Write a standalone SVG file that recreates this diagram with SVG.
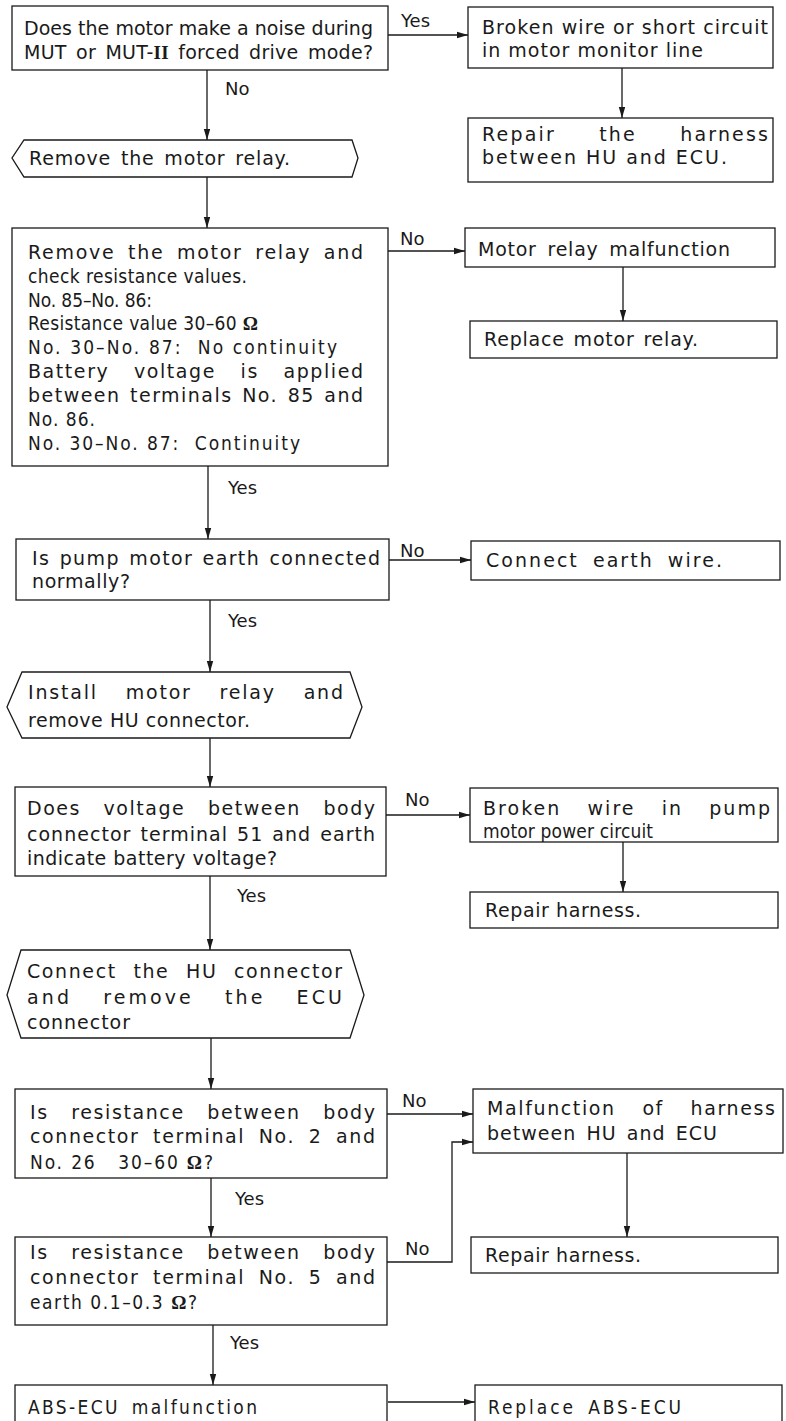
<svg xmlns="http://www.w3.org/2000/svg" width="786" height="1421" viewBox="0 0 786 1421">
  <style>
    .box { fill: #fff; stroke: #1a1a1a; stroke-width: 1.3; }
    .t { font-family: "DejaVu Sans", Verdana, sans-serif; font-size: 19px; fill: #1a1a1a; }
    .n { font-family: "DejaVu Sans Condensed", "DejaVu Sans", sans-serif; font-stretch: condensed; font-size: 19px; fill: #1a1a1a; }
    .lbl { font-family: "DejaVu Sans", Verdana, sans-serif; font-size: 18px; fill: #1a1a1a; }
    .rn { font-family: "Liberation Serif", serif; font-weight: bold; font-stretch: normal; }
    .c { fill: none; stroke: #1a1a1a; stroke-width: 1.3; }
  </style>
  <defs>
    <marker id="arrow" markerUnits="userSpaceOnUse" markerWidth="12" markerHeight="8" refX="11" refY="4" orient="auto">
      <path d="M0,0.8 L11,4 L0,7.2 Z" fill="#1a1a1a"/>
    </marker>
  </defs>
  <rect width="786" height="1421" fill="#fff"/>

  <!-- connectors with their Yes / No labels -->
  <g id="connectors">
    <path class="c" d="M388,35 H468" marker-end="url(#arrow)"/>
    <path class="c" d="M622,68 V118" marker-end="url(#arrow)"/>
    <path class="c" d="M207,70 V140" marker-end="url(#arrow)"/>
    <path class="c" d="M207,177 V228" marker-end="url(#arrow)"/>
    <path class="c" d="M388,251 H465" marker-end="url(#arrow)"/>
    <path class="c" d="M623,267 V321" marker-end="url(#arrow)"/>
    <path class="c" d="M208,466 V539" marker-end="url(#arrow)"/>
    <path class="c" d="M389,560 H471" marker-end="url(#arrow)"/>
    <path class="c" d="M210,600 V672" marker-end="url(#arrow)"/>
    <path class="c" d="M210,738 V787" marker-end="url(#arrow)"/>
    <path class="c" d="M386,815 H470" marker-end="url(#arrow)"/>
    <path class="c" d="M623,842 V892" marker-end="url(#arrow)"/>
    <path class="c" d="M210,876 V950" marker-end="url(#arrow)"/>
    <path class="c" d="M211,1038 V1089" marker-end="url(#arrow)"/>
    <path class="c" d="M387,1114 H473" marker-end="url(#arrow)"/>
    <path class="c" d="M627,1153 V1237" marker-end="url(#arrow)"/>
    <path class="c" d="M211,1178 V1237" marker-end="url(#arrow)"/>
    <path class="c" d="M387,1262 H452 V1142 H473" marker-end="url(#arrow)"/>
    <path class="c" d="M213,1325 V1385" marker-end="url(#arrow)"/>
    <path class="c" d="M388,1402 H475" marker-end="url(#arrow)"/>

    <text class="lbl" x="401" y="27">Yes</text>
    <text class="lbl" x="225" y="95">No</text>
    <text class="lbl" x="400" y="245">No</text>
    <text class="lbl" x="228" y="494">Yes</text>
    <text class="lbl" x="400" y="557">No</text>
    <text class="lbl" x="228" y="627">Yes</text>
    <text class="lbl" x="405" y="806">No</text>
    <text class="lbl" x="237" y="902">Yes</text>
    <text class="lbl" x="402" y="1107">No</text>
    <text class="lbl" x="235" y="1205">Yes</text>
    <text class="lbl" x="405" y="1255">No</text>
    <text class="lbl" x="230" y="1349">Yes</text>
  </g>

  <g id="q-motor-noise">
    <rect class="box" x="12" y="6" width="376" height="64"/>
    <text class="t" x="24" y="35" textLength="349" lengthAdjust="spacing">Does the motor make a noise during</text>
    <text class="t" x="24" y="59" word-spacing="3" textLength="349" lengthAdjust="spacing">MUT or MUT-<tspan class="rn">II</tspan> forced drive mode?</text>
  </g>

  <g id="monitor-line-fault">
    <rect class="box" x="468" y="7" width="305" height="61"/>
    <text class="t" x="482" y="34" textLength="286" lengthAdjust="spacing">Broken wire or short circuit</text>
    <text class="t" x="482" y="57" textLength="221" lengthAdjust="spacing">in motor monitor line</text>
  </g>

  <g id="repair-hu-ecu">
    <rect class="box" x="468" y="118" width="305" height="64"/>
    <text class="t" x="482" y="141" word-spacing="35" textLength="286" lengthAdjust="spacing">Repair the harness</text>
    <text class="t" x="482" y="164" textLength="245" lengthAdjust="spacing">between HU and ECU.</text>
  </g>

  <g id="step-remove-relay">
    <polygon class="box" points="24,140 352,140 358,158 352,177 24,177 12,158"/>
    <text class="t" x="29" y="165" word-spacing="3" textLength="261" lengthAdjust="spacing">Remove the motor relay.</text>
  </g>

  <g id="q-relay-resistance">
    <rect class="box" x="12" y="228" width="376" height="238"/>
    <text class="t" x="28" y="259" word-spacing="5" textLength="335" lengthAdjust="spacing">Remove the motor relay and</text>
    <text class="n" x="28" y="283" textLength="219" lengthAdjust="spacing">check resistance values.</text>
    <text class="n" x="28" y="307" textLength="124" lengthAdjust="spacing">No. 85–No. 86:</text>
    <text class="n" x="28" y="330" textLength="230" lengthAdjust="spacing">Resistance value 30–60 <tspan class="rn">Ω</tspan></text>
    <text class="n" x="28" y="354" textLength="309" lengthAdjust="spacing">No. 30–No. 87:&#160; No continuity</text>
    <text class="t" x="28" y="378" word-spacing="17" textLength="335" lengthAdjust="spacing">Battery voltage is applied</text>
    <text class="t" x="28" y="402" word-spacing="2" textLength="335" lengthAdjust="spacing">between terminals No. 85 and</text>
    <text class="n" x="28" y="426" textLength="67" lengthAdjust="spacing">No. 86.</text>
    <text class="n" x="28" y="450" textLength="272" lengthAdjust="spacing">No. 30–No. 87:&#160; Continuity</text>
  </g>

  <g id="relay-malfunction">
    <rect class="box" x="465" y="228" width="310" height="39"/>
    <text class="t" x="478" y="256" word-spacing="4" textLength="252" lengthAdjust="spacing">Motor relay malfunction</text>
  </g>

  <g id="replace-relay">
    <rect class="box" x="470" y="321" width="307" height="37"/>
    <text class="t" x="484" y="346" word-spacing="2" textLength="214" lengthAdjust="spacing">Replace motor relay.</text>
  </g>

  <g id="q-pump-earth">
    <rect class="box" x="16" y="539" width="373" height="61"/>
    <text class="t" x="32" y="565" word-spacing="2" textLength="348" lengthAdjust="spacing">Is pump motor earth connected</text>
    <text class="t" x="32" y="588" textLength="98" lengthAdjust="spacing">normally?</text>
  </g>

  <g id="connect-earth">
    <rect class="box" x="471" y="541" width="309" height="39"/>
    <text class="t" x="486" y="567" word-spacing="6" textLength="236" lengthAdjust="spacing">Connect earth wire.</text>
  </g>

  <g id="step-install-relay">
    <polygon class="box" points="22,672 350,672 362,707 350,738 22,738 7,707"/>
    <text class="t" x="28" y="699" word-spacing="20" textLength="315" lengthAdjust="spacing">Install motor relay and</text>
    <text class="t" x="28" y="727" textLength="222" lengthAdjust="spacing">remove HU connector.</text>
  </g>

  <g id="q-terminal-51">
    <rect class="box" x="15" y="787" width="371" height="89"/>
    <text class="t" x="27" y="815" word-spacing="15" textLength="348" lengthAdjust="spacing">Does voltage between body</text>
    <text class="t" x="27" y="841" word-spacing="2" textLength="348" lengthAdjust="spacing">connector terminal 51 and earth</text>
    <text class="t" x="27" y="865" textLength="250" lengthAdjust="spacing">indicate battery voltage?</text>
  </g>

  <g id="pump-power-fault">
    <rect class="box" x="470" y="788" width="308" height="54"/>
    <text class="t" x="483" y="815" word-spacing="18" textLength="287" lengthAdjust="spacing">Broken wire in pump</text>
    <text class="n" x="483" y="838" textLength="170" lengthAdjust="spacing">motor power circuit</text>
  </g>

  <g id="repair-harness-1">
    <rect class="box" x="470" y="892" width="308" height="36"/>
    <text class="t" x="485" y="917" textLength="156" lengthAdjust="spacing">Repair harness.</text>
  </g>

  <g id="step-swap-connectors">
    <polygon class="box" points="21,950 350,950 364,995 350,1038 21,1038 7,995"/>
    <text class="t" x="27" y="978" word-spacing="9" textLength="315" lengthAdjust="spacing">Connect the HU connector</text>
    <text class="t" x="27" y="1004" word-spacing="22" textLength="315" lengthAdjust="spacing">and remove the ECU</text>
    <text class="t" x="27" y="1029" textLength="103" lengthAdjust="spacing">connector</text>
  </g>

  <g id="q-terminal-2-26">
    <rect class="box" x="15" y="1089" width="372" height="89"/>
    <text class="t" x="30" y="1119" word-spacing="15" textLength="345" lengthAdjust="spacing">Is resistance between body</text>
    <text class="t" x="30" y="1143" word-spacing="6" textLength="345" lengthAdjust="spacing">connector terminal No. 2 and</text>
    <text class="n" x="30" y="1169" textLength="183" lengthAdjust="spacing">No. 26&#160;&#160; 30–60 <tspan class="rn">Ω</tspan>?</text>
  </g>

  <g id="harness-malfunction">
    <rect class="box" x="473" y="1089" width="310" height="64"/>
    <text class="t" x="487" y="1115" word-spacing="19" textLength="288" lengthAdjust="spacing">Malfunction of harness</text>
    <text class="t" x="487" y="1140" word-spacing="3" textLength="230" lengthAdjust="spacing">between HU and ECU</text>
  </g>

  <g id="repair-harness-2">
    <rect class="box" x="471" y="1237" width="307" height="36"/>
    <text class="t" x="485" y="1262" textLength="156" lengthAdjust="spacing">Repair harness.</text>
  </g>

  <g id="q-terminal-5">
    <rect class="box" x="15" y="1237" width="372" height="88"/>
    <text class="t" x="30" y="1259" word-spacing="15" textLength="345" lengthAdjust="spacing">Is resistance between body</text>
    <text class="t" x="30" y="1284" word-spacing="6" textLength="345" lengthAdjust="spacing">connector terminal No. 5 and</text>
    <text class="n" x="30" y="1309" textLength="167" lengthAdjust="spacing">earth 0.1–0.3 <tspan class="rn">Ω</tspan>?</text>
  </g>

  <g id="ecu-malfunction">
    <rect class="box" x="15" y="1385" width="372" height="60"/>
    <text class="n" x="28" y="1414" word-spacing="4" textLength="229" lengthAdjust="spacing">ABS-ECU malfunction</text>
  </g>

  <g id="replace-ecu">
    <rect class="box" x="475" y="1385" width="307" height="60"/>
    <text class="n" x="488" y="1414" word-spacing="4" textLength="193" lengthAdjust="spacing">Replace ABS-ECU</text>
  </g>
</svg>
